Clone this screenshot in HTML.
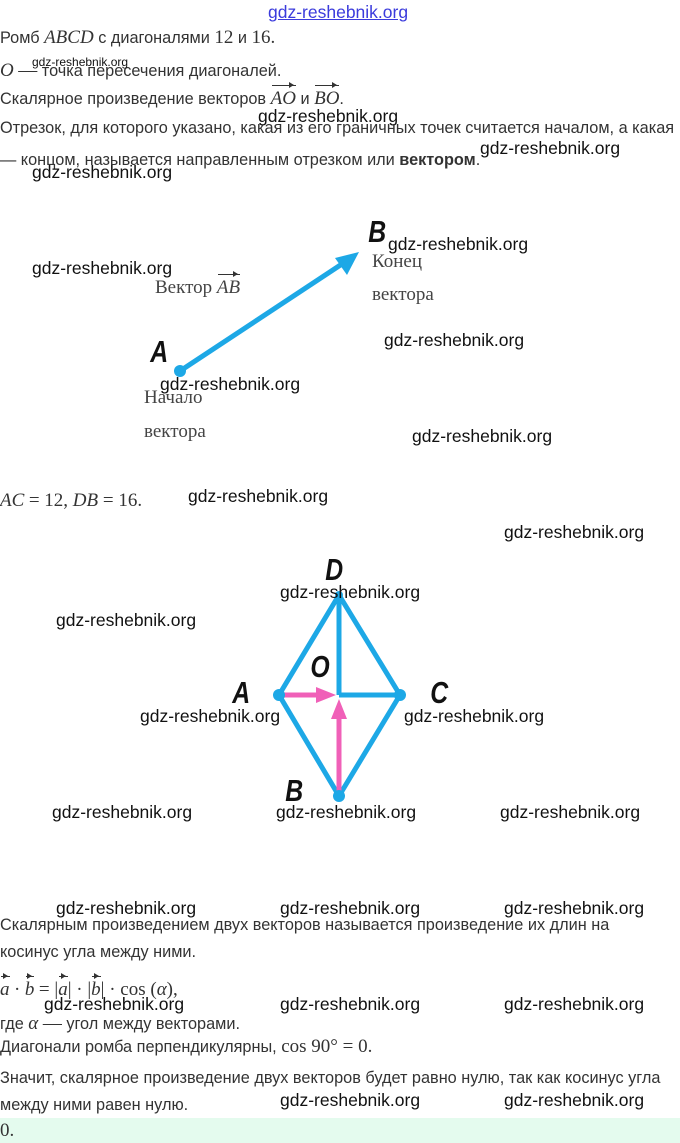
<!DOCTYPE html>
<html><head><meta charset="utf-8"><style>
body{margin:0;width:680px;height:1143px;background:#fff;position:relative;overflow:hidden;font-family:"Liberation Sans",sans-serif;}
.t{position:absolute;left:0;font-size:16.3px;color:#333;white-space:nowrap;}
.m{font-family:"Liberation Serif",serif;font-style:italic;font-size:19px;}
.r{font-family:"Liberation Serif",serif;font-size:19px;}
.w{position:absolute;font-size:17.5px;color:#111;white-space:nowrap;}
.s{position:absolute;font-family:"Liberation Serif",serif;font-size:19px;color:#444;white-space:nowrap;}
.L{position:absolute;font-family:"Liberation Sans",sans-serif;font-style:italic;font-weight:bold;font-size:31px;color:#111;transform:scaleX(0.8);}
.v{position:relative;display:inline-block;}
.v:before{content:"";position:absolute;left:1px;right:0;top:-3px;border-top:1px solid #333;}
.v:after{content:"";position:absolute;right:-1px;top:-6px;border:3px solid transparent;border-left:5px solid #333;}
</style></head><body>
<div class="w" style="left:268px;top:2px;color:#3b3bdc;font-size:17.5px;text-decoration:underline">gdz-reshebnik.org</div>
<div class="t" style="top:27px">Ромб <span class="m">ABCD</span> с диагоналями <span class="r">12</span> и <span class="r">16.</span></div>
<div class="t" style="top:60px"><span class="m">O</span> <span class="r">—</span> точка пересечения диагоналей.</div>
<div class="w" style="left:32px;top:55px;font-size:12px">gdz-reshebnik.org</div>
<div class="t" style="top:88px">Скалярное произведение векторов <span class="m v">AO</span> и <span class="m v">BO</span>.</div>
<div class="w" style="left:258px;top:106px">gdz-reshebnik.org</div>
<div class="t" style="top:119px">Отрезок, для которого указано, какая из его граничных точек считается началом, а какая</div>
<div class="t" style="top:151px">— концом, называется направленным отрезком или <b>вектором</b>.</div>
<div class="w" style="left:480px;top:138px">gdz-reshebnik.org</div>
<div class="w" style="left:32px;top:162px">gdz-reshebnik.org</div>

<svg style="position:absolute;left:0;top:0" width="680" height="1143">
<line x1="180" y1="371" x2="345" y2="262" stroke="#1da8e6" stroke-width="5"/>
<polygon points="359,252 335,258 347,275" fill="#1da8e6"/>
<circle cx="180" cy="371" r="6" fill="#1da8e6"/>
<g stroke="#1da8e6" stroke-width="5" fill="none" stroke-linejoin="round">
<polygon points="339,595 400,695 339,796 279,695"/>
<line x1="339" y1="595" x2="339" y2="695"/>
<line x1="339" y1="695" x2="400" y2="695"/>
</g>
<line x1="279" y1="695" x2="320" y2="695" stroke="#f060b8" stroke-width="5"/>
<polygon points="336,695 316,687 316,703" fill="#f060b8"/>
<line x1="339" y1="796" x2="339" y2="715" stroke="#f060b8" stroke-width="5"/>
<polygon points="339,699 331,719 347,719" fill="#f060b8"/>
<circle cx="279" cy="695" r="6" fill="#1da8e6"/>
<circle cx="400" cy="695" r="6" fill="#1da8e6"/>
<circle cx="339" cy="796" r="6" fill="#1da8e6"/>
<circle cx="339" cy="595" r="4" fill="#1da8e6"/>
</svg>
<div class="L" style="left:366px;top:214px">B</div>
<div class="L" style="left:148px;top:334px">A</div>
<div class="s" style="left:155px;top:277px">Вектор <i class="v">AB</i></div>
<div class="s" style="left:372px;top:251px">Конец</div>
<div class="s" style="left:372px;top:284px">вектора</div>
<div class="s" style="left:144px;top:387px">Начало</div>
<div class="s" style="left:144px;top:421px">вектора</div>
<div class="w" style="left:388px;top:234px">gdz-reshebnik.org</div>
<div class="w" style="left:32px;top:258px">gdz-reshebnik.org</div>
<div class="w" style="left:384px;top:330px">gdz-reshebnik.org</div>
<div class="w" style="left:160px;top:374px">gdz-reshebnik.org</div>
<div class="w" style="left:412px;top:426px">gdz-reshebnik.org</div>

<div class="t" style="top:490px"><span class="m">AC</span> <span class="r">= 12, </span><span class="m">DB</span><span class="r"> = 16.</span></div>
<div class="w" style="left:188px;top:486px">gdz-reshebnik.org</div>
<div class="w" style="left:504px;top:522px">gdz-reshebnik.org</div>
<div class="L" style="left:323px;top:552px">D</div>
<div class="L" style="left:308px;top:649px">O</div>
<div class="L" style="left:230px;top:675px">A</div>
<div class="L" style="left:428px;top:675px">C</div>
<div class="L" style="left:283px;top:773px">B</div>
<div class="w" style="left:280px;top:582px">gdz-reshebnik.org</div>
<div class="w" style="left:56px;top:610px">gdz-reshebnik.org</div>
<div class="w" style="left:140px;top:706px">gdz-reshebnik.org</div>
<div class="w" style="left:404px;top:706px">gdz-reshebnik.org</div>
<div class="w" style="left:52px;top:802px">gdz-reshebnik.org</div>
<div class="w" style="left:276px;top:802px">gdz-reshebnik.org</div>
<div class="w" style="left:500px;top:802px">gdz-reshebnik.org</div>

<div class="w" style="left:56px;top:898px">gdz-reshebnik.org</div>
<div class="w" style="left:280px;top:898px">gdz-reshebnik.org</div>
<div class="w" style="left:504px;top:898px">gdz-reshebnik.org</div>
<div class="t" style="top:916px">Скалярным произведением двух векторов называется произведение их длин на</div>
<div class="t" style="top:943px">косинус угла между ними.</div>
<div class="t" style="top:979px"><span class="m v">a</span> <span class="r">·</span> <span class="m v">b</span> <span class="r">= |<i class="v">a</i>| · |<i class="v">b</i>| · cos (<i>α</i>),</span></div>
<div class="w" style="left:44px;top:994px">gdz-reshebnik.org</div>
<div class="w" style="left:280px;top:994px">gdz-reshebnik.org</div>
<div class="w" style="left:504px;top:994px">gdz-reshebnik.org</div>
<div class="t" style="top:1013px">где <span class="m">α</span> <span class="r">—</span> угол между векторами.</div>
<div class="t" style="top:1036px">Диагонали ромба перпендикулярны, <span class="r">cos 90° = 0.</span></div>
<div class="t" style="top:1069px">Значит, скалярное произведение двух векторов будет равно нулю, так как косинус угла</div>
<div class="t" style="top:1096px">между ними равен нулю.</div>
<div class="w" style="left:280px;top:1090px">gdz-reshebnik.org</div>
<div class="w" style="left:504px;top:1090px">gdz-reshebnik.org</div>
<div style="position:absolute;left:0;top:1118px;width:680px;height:25px;background:#e4fbee"></div>
<div class="t" style="top:1120px"><span class="r">0.</span></div>
</body></html>
